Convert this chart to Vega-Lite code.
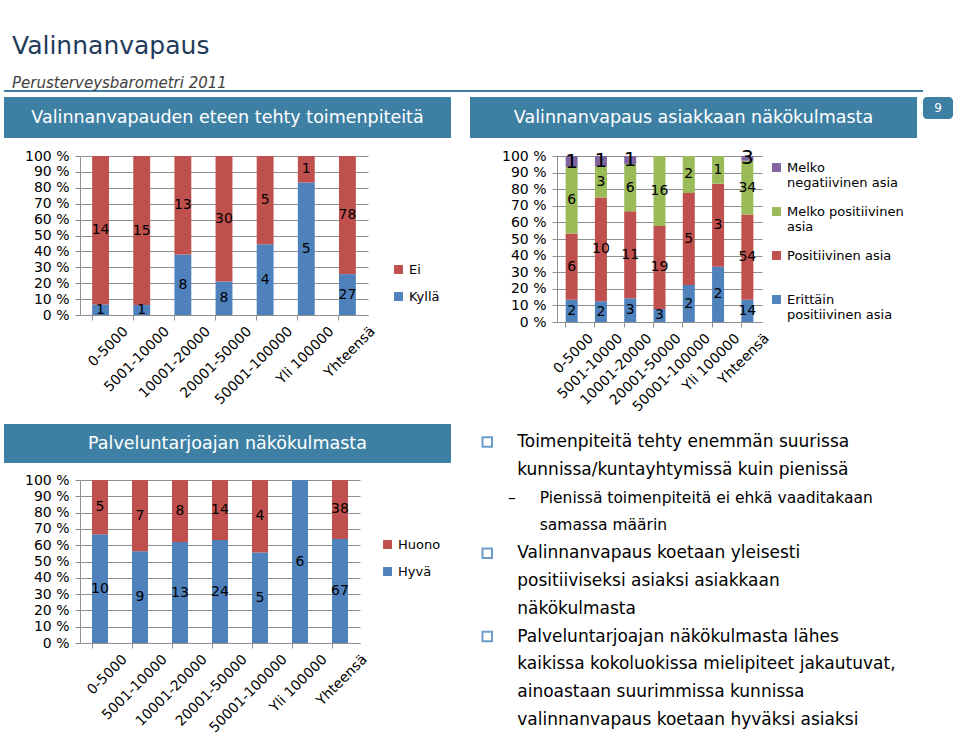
{
  "$schema": "https://vega.github.io/schema/vega-lite/v6.json",
  "background": "white",
  "padding": {"left": 4, "top": 34, "right": 0, "bottom": 0},
  "config": {
    "font": "DejaVu Sans",
    "view": {"stroke": null},
    "axisY": {"grid": true, "gridColor": "#8f8f8f", "domainColor": "#8f8f8f", "tickColor": "#8f8f8f", "tickSize": 5, "labelFontSize": 14, "labelColor": "#000", "labelPadding": 6},
    "axisX": {"labelFontSize": 14, "labelColor": "#000", "labelAngle": -45, "domainColor": "#8f8f8f", "tickColor": "#8f8f8f", "tickSize": 5, "labelPadding": 4},
    "legend": {"symbolType": "square", "symbolSize": 80, "symbolStrokeWidth": 0, "labelFontSize": 13, "labelColor": "#000", "labelLimit": 220}
  },
  "title": {
    "text": "Valinnanvapaus",
    "subtitle": "Perusterveysbarometri 2011",
    "anchor": "start",
    "dx": 8,
    "fontSize": 25,
    "fontWeight": "normal",
    "color": "#1F3B5A",
    "subtitleFontSize": 15,
    "subtitleFontStyle": "italic",
    "subtitleColor": "#404040",
    "subtitlePadding": 17,
    "offset": -6
  },
  "datasets": {
    "toimenpiteet": [
      {"k": "0-5000", "s": "Kyllä", "n": 1}, {"k": "0-5000", "s": "Ei", "n": 14},
      {"k": "5001-10000", "s": "Kyllä", "n": 1}, {"k": "5001-10000", "s": "Ei", "n": 15},
      {"k": "10001-20000", "s": "Kyllä", "n": 8}, {"k": "10001-20000", "s": "Ei", "n": 13},
      {"k": "20001-50000", "s": "Kyllä", "n": 8}, {"k": "20001-50000", "s": "Ei", "n": 30},
      {"k": "50001-100000", "s": "Kyllä", "n": 4}, {"k": "50001-100000", "s": "Ei", "n": 5},
      {"k": "Yli 100000", "s": "Kyllä", "n": 5}, {"k": "Yli 100000", "s": "Ei", "n": 1},
      {"k": "Yhteensä", "s": "Kyllä", "n": 27}, {"k": "Yhteensä", "s": "Ei", "n": 78}
    ],
    "asiakas": [
      {"k": "0-5000", "s": "Erittäin positiivinen asia", "n": 2}, {"k": "0-5000", "s": "Positiivinen asia", "n": 6}, {"k": "0-5000", "s": "Melko positiivinen asia", "n": 6}, {"k": "0-5000", "s": "Melko negatiivinen asia", "n": 1},
      {"k": "5001-10000", "s": "Erittäin positiivinen asia", "n": 2}, {"k": "5001-10000", "s": "Positiivinen asia", "n": 10}, {"k": "5001-10000", "s": "Melko positiivinen asia", "n": 3}, {"k": "5001-10000", "s": "Melko negatiivinen asia", "n": 1},
      {"k": "10001-20000", "s": "Erittäin positiivinen asia", "n": 3}, {"k": "10001-20000", "s": "Positiivinen asia", "n": 11}, {"k": "10001-20000", "s": "Melko positiivinen asia", "n": 6}, {"k": "10001-20000", "s": "Melko negatiivinen asia", "n": 1},
      {"k": "20001-50000", "s": "Erittäin positiivinen asia", "n": 3}, {"k": "20001-50000", "s": "Positiivinen asia", "n": 19}, {"k": "20001-50000", "s": "Melko positiivinen asia", "n": 16},
      {"k": "50001-100000", "s": "Erittäin positiivinen asia", "n": 2}, {"k": "50001-100000", "s": "Positiivinen asia", "n": 5}, {"k": "50001-100000", "s": "Melko positiivinen asia", "n": 2},
      {"k": "Yli 100000", "s": "Erittäin positiivinen asia", "n": 2}, {"k": "Yli 100000", "s": "Positiivinen asia", "n": 3}, {"k": "Yli 100000", "s": "Melko positiivinen asia", "n": 1},
      {"k": "Yhteensä", "s": "Erittäin positiivinen asia", "n": 14}, {"k": "Yhteensä", "s": "Positiivinen asia", "n": 54}, {"k": "Yhteensä", "s": "Melko positiivinen asia", "n": 34}, {"k": "Yhteensä", "s": "Melko negatiivinen asia", "n": 3}
    ],
    "tarjoaja": [
      {"k": "0-5000", "s": "Hyvä", "n": 10}, {"k": "0-5000", "s": "Huono", "n": 5},
      {"k": "5001-10000", "s": "Hyvä", "n": 9}, {"k": "5001-10000", "s": "Huono", "n": 7},
      {"k": "10001-20000", "s": "Hyvä", "n": 13}, {"k": "10001-20000", "s": "Huono", "n": 8},
      {"k": "20001-50000", "s": "Hyvä", "n": 24}, {"k": "20001-50000", "s": "Huono", "n": 14},
      {"k": "50001-100000", "s": "Hyvä", "n": 5}, {"k": "50001-100000", "s": "Huono", "n": 4},
      {"k": "Yli 100000", "s": "Hyvä", "n": 6},
      {"k": "Yhteensä", "s": "Hyvä", "n": 67}, {"k": "Yhteensä", "s": "Huono", "n": 38}
    ],
    "teksti": [
      {"i": 1, "lvl": "main", "b": "box", "t": "Toimenpiteitä tehty enemmän suurissa"},
      {"i": 2, "lvl": "main", "b": "", "t": "kunnissa/kuntayhtymissä kuin pienissä"},
      {"i": 3, "lvl": "sub", "b": "dash", "t": "Pienissä toimenpiteitä ei ehkä vaaditakaan"},
      {"i": 4, "lvl": "sub", "b": "", "t": "samassa määrin"},
      {"i": 5, "lvl": "main", "b": "box", "t": "Valinnanvapaus koetaan yleisesti"},
      {"i": 6, "lvl": "main", "b": "", "t": "positiiviseksi asiaksi asiakkaan"},
      {"i": 7, "lvl": "main", "b": "", "t": "näkökulmasta"},
      {"i": 8, "lvl": "main", "b": "box", "t": "Palveluntarjoajan näkökulmasta lähes"},
      {"i": 9, "lvl": "main", "b": "", "t": "kaikissa kokoluokissa mielipiteet jakautuvat,"},
      {"i": 10, "lvl": "main", "b": "", "t": "ainoastaan suurimmissa kunnissa"},
      {"i": 11, "lvl": "main", "b": "", "t": "valinnanvapaus koetaan hyväksi asiaksi"}
    ]
  },
  "spacing": 10,
  "resolve": {"scale": {"color": "independent"}, "legend": {"color": "independent"}},
  "vconcat": [
    {
      "spacing": 10,
      "resolve": {"scale": {"color": "independent"}, "legend": {"color": "independent"}},
      "vconcat": [
        {
          "spacing": 1,
          "vconcat": [
            {"width": 919, "height": 2, "view": {"fill": "#3E80A4", "stroke": null}, "data": {"values": [{"t": ""}]}, "mark": {"type": "text"}, "encoding": {"text": {"field": "t"}}},
            {
              "spacing": 19,
              "hconcat": [
                {"width": 447, "height": 41, "view": {"fill": "#3E80A4", "stroke": null}, "data": {"values": [{"t": "Valinnanvapauden eteen tehty toimenpiteitä"}]}, "mark": {"type": "text", "color": "white", "fontSize": 17.5, "align": "center", "baseline": "middle"}, "encoding": {"text": {"field": "t"}}},
                {
                  "spacing": 6,
                  "hconcat": [
                    {"width": 447, "height": 41, "view": {"fill": "#3E80A4", "stroke": null}, "data": {"values": [{"t": "Valinnanvapaus asiakkaan näkökulmasta"}]}, "mark": {"type": "text", "color": "white", "fontSize": 17.5, "align": "center", "baseline": "middle"}, "encoding": {"text": {"field": "t"}}},
                    {"width": 30, "height": 22, "view": {"fill": "#3E80A4", "stroke": null, "cornerRadius": 4}, "data": {"values": [{"t": "9"}]}, "mark": {"type": "text", "color": "white", "fontSize": 12, "align": "center", "baseline": "middle"}, "encoding": {"text": {"field": "t"}}}
                  ]
                }
              ]
            }
          ]
        },
        {
          "spacing": 0,
          "resolve": {"scale": {"color": "independent"}, "legend": {"color": "independent"}},
          "hconcat": [
            {"width": 1, "height": 1, "data": {"values": [{"t": ""}]}, "mark": {"type": "text"}, "encoding": {"text": {"field": "t"}}},
            {
              "spacing": 61,
              "resolve": {"scale": {"color": "independent"}, "legend": {"color": "independent"}},
              "hconcat": [
                {
                  "width": 288,
                  "height": 159,
                  "data": {"name": "toimenpiteet"},
                  "encoding": {
                    "x": {"field": "k", "type": "nominal", "title": null, "scale": {"domain": ["0-5000", "5001-10000", "10001-20000", "20001-50000", "50001-100000", "Yli 100000", "Yhteensä"], "paddingInner": 0.59, "paddingOuter": 0.295}, "axis": {"bandPosition": 0, "labelOffset": 20.5}},
                    "order": {"field": "s", "sort": "descending"}
                  },
                  "layer": [
                    {
                      "mark": {"type": "bar"},
                      "encoding": {
                        "y": {"field": "n", "type": "quantitative", "stack": "normalize", "title": null, "scale": {"domain": [0, 1], "nice": false}, "axis": {"minExtent": 75, "values": [0, 0.1, 0.2, 0.3, 0.4, 0.5, 0.6, 0.7, 0.8, 0.9, 1], "labelExpr": "round(datum.value * 100) + ' %'"}},
                        "color": {"field": "s", "type": "nominal", "scale": {"domain": ["Ei", "Kyllä"], "range": ["#C0504D", "#4F81BD"]}, "legend": {"title": null, "orient": "none", "legendX": 312, "legendY": 107, "rowPadding": 13}}
                      }
                    },
                    {
                      "mark": {"type": "text", "fontSize": 14, "color": "#000", "baseline": "middle"},
                      "encoding": {
                        "y": {"field": "n", "type": "quantitative", "stack": "normalize", "bandPosition": 0.5, "title": null, "scale": {"domain": [0, 1], "nice": false}, "axis": {"minExtent": 75, "values": [0, 0.1, 0.2, 0.3, 0.4, 0.5, 0.6, 0.7, 0.8, 0.9, 1], "labelExpr": "round(datum.value * 100) + ' %'"}},
                        "detail": {"field": "s"},
                        "text": {"field": "n", "type": "quantitative"}
                      }
                    }
                  ]
                },
                {
                  "width": 205,
                  "height": 166,
                  "data": {"name": "asiakas"},
                  "transform": [{"calculate": "indexof(['Melko negatiivinen asia', 'Melko positiivinen asia', 'Positiivinen asia', 'Erittäin positiivinen asia'], datum.s)", "as": "jarj"}],
                  "encoding": {
                    "x": {"field": "k", "type": "nominal", "title": null, "scale": {"domain": ["0-5000", "5001-10000", "10001-20000", "20001-50000", "50001-100000", "Yli 100000", "Yhteensä"], "paddingInner": 0.59, "paddingOuter": 0.295}, "axis": {"bandPosition": 0, "labelOffset": 14.6}},
                    "order": {"field": "jarj", "sort": "descending"}
                  },
                  "layer": [
                    {
                      "mark": {"type": "bar"},
                      "encoding": {
                        "y": {"field": "n", "type": "quantitative", "stack": "normalize", "title": null, "scale": {"domain": [0, 1], "nice": false}, "axis": {"values": [0, 0.1, 0.2, 0.3, 0.4, 0.5, 0.6, 0.7, 0.8, 0.9, 1], "labelExpr": "round(datum.value * 100) + ' %'"}},
                        "color": {"field": "s", "type": "nominal", "scale": {"domain": ["Melko negatiivinen asia", "Melko positiivinen asia", "Positiivinen asia", "Erittäin positiivinen asia"], "range": ["#8064A2", "#9BBB59", "#C0504D", "#4F81BD"]}, "legend": {"title": null, "orient": "none", "legendX": 213, "legendY": 5, "rowPadding": 15, "labelExpr": "datum.label == 'Melko negatiivinen asia' ? ['Melko', 'negatiivinen asia'] : datum.label == 'Melko positiivinen asia' ? ['Melko positiivinen', 'asia'] : datum.label == 'Erittäin positiivinen asia' ? ['Erittäin', 'positiivinen asia'] : ['Positiivinen asia', ' ']"}}
                      }
                    },
                    {
                      "mark": {"type": "text", "color": "#000", "baseline": "middle"},
                      "encoding": {
                        "y": {"field": "n", "type": "quantitative", "stack": "normalize", "bandPosition": 0.5, "title": null, "scale": {"domain": [0, 1], "nice": false}, "axis": {"values": [0, 0.1, 0.2, 0.3, 0.4, 0.5, 0.6, 0.7, 0.8, 0.9, 1], "labelExpr": "round(datum.value * 100) + ' %'"}},
                        "detail": {"field": "s"},
                        "text": {"field": "n", "type": "quantitative"},
                        "size": {"condition": {"test": "datum.s == 'Melko negatiivinen asia'", "value": 20}, "value": 14}
                      }
                    }
                  ]
                }
              ]
            }
          ]
        }
      ]
    },
    {
      "spacing": 10,
      "resolve": {"scale": {"color": "independent"}, "legend": {"color": "independent"}},
      "hconcat": [
        {
          "spacing": 10,
          "resolve": {"scale": {"color": "independent"}, "legend": {"color": "independent"}},
          "vconcat": [
            {"width": 447, "height": 39, "view": {"fill": "#3E80A4", "stroke": null}, "data": {"values": [{"t": "Palveluntarjoajan näkökulmasta"}]}, "mark": {"type": "text", "color": "white", "fontSize": 17.5, "align": "center", "baseline": "middle"}, "encoding": {"text": {"field": "t"}}},
            {
              "spacing": 0,
              "resolve": {"scale": {"color": "independent"}, "legend": {"color": "independent"}},
              "hconcat": [
                {"width": 1, "height": 1, "data": {"values": [{"t": ""}]}, "mark": {"type": "text"}, "encoding": {"text": {"field": "t"}}},
                {
                  "width": 280,
                  "height": 163,
                  "data": {"name": "tarjoaja"},
                  "encoding": {
                    "x": {"field": "k", "type": "nominal", "title": null, "scale": {"domain": ["0-5000", "5001-10000", "10001-20000", "20001-50000", "50001-100000", "Yli 100000", "Yhteensä"], "paddingInner": 0.6, "paddingOuter": 0.3}, "axis": {"bandPosition": 0, "labelOffset": 20}},
                    "order": {"field": "s", "sort": "descending"}
                  },
                  "layer": [
                    {
                      "mark": {"type": "bar"},
                      "encoding": {
                        "y": {"field": "n", "type": "quantitative", "stack": "normalize", "title": null, "scale": {"domain": [0, 1], "nice": false}, "axis": {"minExtent": 75, "values": [0, 0.1, 0.2, 0.3, 0.4, 0.5, 0.6, 0.7, 0.8, 0.9, 1], "labelExpr": "round(datum.value * 100) + ' %'"}},
                        "color": {"field": "s", "type": "nominal", "scale": {"domain": ["Huono", "Hyvä"], "range": ["#C0504D", "#4F81BD"]}, "legend": {"title": null, "orient": "none", "legendX": 301, "legendY": 58, "rowPadding": 13}}
                      }
                    },
                    {
                      "mark": {"type": "text", "fontSize": 14, "color": "#000", "baseline": "middle"},
                      "encoding": {
                        "y": {"field": "n", "type": "quantitative", "stack": "normalize", "bandPosition": 0.5, "title": null, "scale": {"domain": [0, 1], "nice": false}, "axis": {"minExtent": 75, "values": [0, 0.1, 0.2, 0.3, 0.4, 0.5, 0.6, 0.7, 0.8, 0.9, 1], "labelExpr": "round(datum.value * 100) + ' %'"}},
                        "detail": {"field": "s"},
                        "text": {"field": "n", "type": "quantitative"}
                      }
                    }
                  ]
                }
              ]
            }
          ]
        },
        {
          "width": 486,
          "height": 314,
          "data": {"name": "teksti"},
          "encoding": {
            "y": {"field": "i", "type": "ordinal", "axis": null, "scale": {"type": "point", "padding": 0.65}}
          },
          "layer": [
            {
              "mark": {"type": "text", "align": "left", "baseline": "middle", "color": "#000"},
              "encoding": {
                "x": {"field": "lvl", "type": "nominal", "axis": null, "scale": {"domain": ["main", "sub"], "range": [45, 90]}},
                "text": {"field": "t"},
                "size": {"condition": {"test": "datum.lvl == 'sub'", "value": 15.5}, "value": 17}
              }
            },
            {
              "transform": [{"filter": "datum.b == 'box'"}],
              "mark": {"type": "point", "shape": "square", "filled": false, "stroke": "#2E74B5", "strokeWidth": 2, "size": 90},
              "encoding": {
                "x": {"field": "b", "type": "nominal", "axis": null, "scale": {"domain": ["box", "dash"], "range": [14, 63]}}
              }
            },
            {
              "transform": [{"filter": "datum.b == 'dash'"}],
              "mark": {"type": "text", "text": "–", "fontSize": 15.5, "color": "#000", "align": "center", "baseline": "middle"},
              "encoding": {
                "x": {"field": "b", "type": "nominal", "axis": null, "scale": {"domain": ["box", "dash"], "range": [14, 63]}}
              }
            }
          ],
          "resolve": {"scale": {"x": "independent"}}
        }
      ]
    }
  ]
}
